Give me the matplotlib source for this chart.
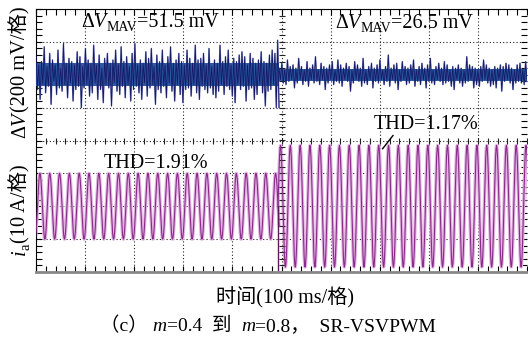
import matplotlib.pyplot as plt
from matplotlib.ticker import MultipleLocator
from matplotlib.transforms import IdentityTransform
import numpy as np

plt.rcParams['font.family'] = ['Liberation Serif', 'Noto Sans CJK SC', 'DejaVu Sans']
plt.rcParams['axes.unicode_minus'] = False

# 示波器: 10 格 x 8 格, 横轴 100 ms/格
t_switch = 4.95          # m 切换时刻 (格)
f_div = 5                # 每格 5 个周期 (50 Hz)

# ΔV 噪声尖峰幅值 (mV), 正负交替; 切换前 / 切换后
dv_before = [120, 90, 60, 150, 80, 60, 170, 110, 50, 70, 130, 180, 90, 40, 60, 120, 150, 80, 40, 100,
             190, 60, 70, 140, 100, 50, 80, 160, 60, 90, 140, 70, 110, 200, 50, 80, 160, 60, 90, 130,
             70, 110, 180, 50, 60, 150, 120, 90, 40, 170, 100, 60, 130, 80, 70, 190, 90, 50, 150, 100,
             60, 120, 170, 70, 80, 140, 110, 60, 50, 160, 130, 90, 190, 70, 60, 110, 90, 150, 70, 50,
             140, 130, 100, 80, 160, 60, 50, 180, 120, 90, 80, 110, 150, 70, 60, 140, 110, 50, 170, 100,
             70, 160, 90, 60, 130, 120, 80, 170, 60, 90, 150, 80, 100, 130, 70, 60, 180, 110, 90, 150,
             100, 70, 130, 90, 60, 110, 160, 80, 50, 120, 90, 140, 70, 100, 180, 60, 80, 120, 110, 70,
             150, 90, 60, 130, 100, 170, 80, 60, 120, 90, 140, 70, 110, 160, 60, 90, 130, 80, 100, 150,
             70, 120, 90, 60, 140, 110, 80, 190, 70, 100, 120, 90, 150, 60, 130, 200, 210, 200]
dv_after = [40, 30, 70, 50, 30, 60, 90, 40, 50, 30, 60, 80, 40, 50, 100, 30, 50, 60, 30, 40,
            80, 70, 40, 30, 60, 50, 110, 40, 30, 60, 70, 30, 50, 90, 40, 50, 60, 30, 80, 60,
            30, 40, 90, 50, 60, 70, 40, 30, 70, 40, 50, 100, 30, 50, 80, 30, 60, 40, 40, 70,
            100, 50, 30, 60, 50, 30, 70, 80, 40, 40, 60, 50, 90, 30, 30, 60, 50, 40, 120, 70,
            40, 30, 60, 50, 70, 90, 30, 40, 80, 30, 50, 60, 40, 50, 60, 30, 90, 70, 30, 40,
            50, 60, 70, 30, 40, 80, 60, 40, 100, 50, 30, 60, 50, 30, 70, 40, 40, 60, 80, 50,
            60, 40, 30, 70, 50, 90, 40, 30, 60, 50, 40, 70, 30, 50, 110, 40, 60, 30, 50, 80,
            40, 60, 30, 70, 50, 40, 90, 30, 60, 50, 40, 70, 30, 60, 50, 80, 40, 30, 60, 100,
            50, 40, 70, 30, 60, 50, 40, 90, 30, 50, 60, 40, 70, 50, 30, 60, 80, 40]
dv_core = [70, 38]       # 密集带半宽 (mV)

# i_a 单周期波形 (标幺), 幅值 (A)
ia_cycle = [0, 0.31, 0.59, 0.81, 0.95, 1.0, 0.95, 0.81, 0.59, 0.31,
            0, -0.31, -0.59, -0.81, -0.95, -1.0, -0.95, -0.81, -0.59, -0.31]
ia_amp = [10.0, 18.5]
ia_start = [-0.17, 4.93]  # 波形起点 (格)
ia_cycles = [26, 27]

W, H = 528, 350
fig = plt.figure(figsize=(W/100, H/100), dpi=100)
ax = fig.add_axes([36/W, 78/H, 491/W, 263/H])
ax.set_xlim(0, 10)
ax.set_ylim(-4, 4)

# ΔV 曲线, 中心在 +2 格
for vals, x0, x1, core in [(dv_before, 0, t_switch, dv_core[0]), (dv_after, t_switch, 10, dv_core[1])]:
    v = np.array(vals) * (-1.0) ** np.arange(len(vals))
    xs = np.linspace(x0, x1, len(vals))
    ax.plot(xs, 2 + v/200, color='#8088c0', lw=1.1, zorder=2)
    ax.fill_between([x0, x1], 2 - core/200, 2 + core/200, color='#2c58a4', lw=0, zorder=3)
    ax.plot(xs, 2 + v/200, color='#141a66', lw=0.6, zorder=4)

# i_a 曲线, 中心在 -2 格
for k in range(2):
    y = np.tile(ia_cycle, ia_cycles[k]) * ia_amp[k] / 10
    x = ia_start[k] + np.arange(len(y)) / (len(ia_cycle) * f_div)
    m = (x <= t_switch) if k == 0 else (x >= ia_start[k])
    ax.plot(x[m], -2 + y[m], color='#e2b4e2', lw=2.4, zorder=2)
    ax.plot(x[m], -2 + y[m], color='#8a2b8a', lw=0.8, zorder=3)
ax.plot([t_switch - 0.02, t_switch - 0.02], [-2, -3.95], color='#5a1a5a', lw=1.0, zorder=3)

# 网格和刻度
ax.xaxis.set_major_locator(MultipleLocator(1))
ax.yaxis.set_major_locator(MultipleLocator(1))
ax.xaxis.set_minor_locator(MultipleLocator(0.2))
ax.yaxis.set_minor_locator(MultipleLocator(0.2))
ax.grid(which='major', ls=(0, (1, 2)), color='#222222', lw=0.8, zorder=1)
ax.tick_params(which='both', direction='in', length=4, top=True, right=True,
               labelbottom=False, labelleft=False, width=0.8)
ax.plot(np.arange(0, 10.01, 0.2), np.zeros(51), ls='none', marker='|', ms=4, color='#222222', mew=0.8)
ax.plot(np.full(41, 5.0), np.arange(-4, 4.01, 0.2), ls='none', marker='_', ms=4, color='#222222', mew=0.8)
ax.spines['bottom'].set_color('#888888')
ax.spines['bottom'].set_linewidth(2)
ax.spines['right'].set_visible(False)

ax.text(2.45, -0.7, 'THD=1.91%', fontsize=14.5, ha='center', va='center')
ax.text(7.95, 0.5, 'THD=1.17%', fontsize=14.5, ha='center', va='center')
ax.plot([7.06, 7.27], [-0.25, 0.15], color='k', lw=1.0)

# 混排文字: 逐段放置 (像素坐标, y 自上而下量到基线)
rend = fig.canvas.get_renderer()


def put(pieces, xc, yb, rot=0):
    arts, total = [], 0
    for s, size, style, dy in pieces:
        t = fig.text(0, 0, s, fontsize=size, style=style, rotation=rot, rotation_mode='anchor',
                     ha='left', va='baseline', transform=IdentityTransform())
        ext = t.get_window_extent(rend)
        w = ext.height if rot else ext.width
        arts.append((t, w, dy))
        total += w
    pos = -total / 2
    for t, w, dy in arts:
        if rot:
            t.set_position((xc + dy, H - yb + pos))
        else:
            t.set_position((xc + pos, H - yb - dy))
        pos += w


put([('Δ', 14.5, 'normal', 0), ('V', 14.5, 'italic', 0), ('MAV', 10, 'normal', 4),
     ('=51.5 mV', 14.5, 'normal', 0)], 150, 27)
put([('Δ', 14.5, 'normal', 0), ('V', 14.5, 'italic', 0), ('MAV', 10, 'normal', 4),
     ('=26.5 mV', 14.5, 'normal', 0)], 404, 28)
put([('Δ', 14.7, 'normal', 0), ('V', 14.7, 'italic', 0), ('(200 mV/格)', 14.7, 'normal', 0)], 25, 72, rot=90)
put([('i', 14.7, 'italic', 0), ('a', 10.5, 'normal', 4), ('(10 A/格)', 14.7, 'normal', 0)], 25, 210, rot=90)
put([('时间(100 ms/格)', 14.5, 'normal', 0)], 285, 303)
put([('（c） ', 14, 'normal', 0), ('m', 14, 'italic', 0), ('=0.4  到  ', 14, 'normal', 0),
     ('m', 14, 'italic', 0), ('=0.8，  SR-VSVPWM', 14, 'normal', 0)], 268, 331)

fig.savefig('out.png', dpi=100)
